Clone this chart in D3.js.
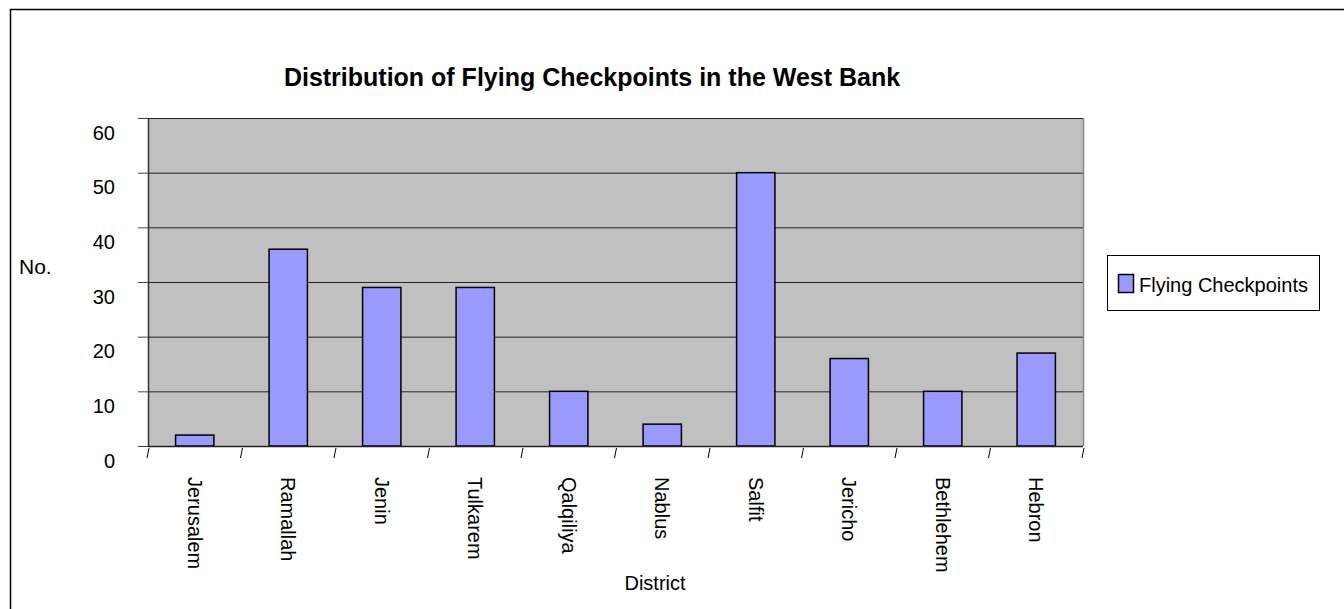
<html>
	<head>
		<meta content="text/html;charset=utf-8" http-equiv="Content-Type">
		<script src="https://d3js.org/d3.v7.min.js"></script>
		<style>
		body { margin:0; background:#fff; }
		text { font-family: Arial, "Liberation Sans", sans-serif; fill:#000; }
		</style>
	</head>
	<body>
		<svg id="chart"></svg>
		<script>

	// data
	var districts = ["Jerusalem","Ramallah","Jenin","Tulkarem","Qalqiliya","Nablus","Salfit","Jericho","Bethlehem","Hebron"];
	var checkpoints = [2, 36, 29, 29, 10, 4, 50, 16, 10, 17];
	var yTicks = [0, 10, 20, 30, 40, 50, 60];
	var seriesName = "Flying Checkpoints";

	page();

	function page(){
		var svg = d3.select("#chart");
		svg.attr("width", 1344).attr("height", 609);

		// chart area border
		svg.append("rect")
			.attr("x", 10.5).attr("y", 9.5)
			.attr("width", 1340).attr("height", 610)
			.style("fill", "#fff").style("stroke", "#000").style("stroke-width", 1.5);

		var left = 148, right = 1083, top = 118, bottom = 446;

		var x = d3.scaleBand().domain(districts).range([left, right])
			.paddingInner(0.59).paddingOuter(0.295);
		var y = d3.scaleLinear().domain([0, 60]).range([bottom, top]);

		// plot area
		svg.append("rect")
			.attr("x", left).attr("y", top)
			.attr("width", right - left).attr("height", bottom - top)
			.style("fill", "#c0c0c0");

		// gridlines
		svg.selectAll(".grid").data(yTicks.slice(1)).enter().append("line")
			.attr("class", "grid")
			.attr("x1", left).attr("x2", right)
			.attr("y1", function(d){ return y(d) + 0.5; })
			.attr("y2", function(d){ return y(d) + 0.5; })
			.style("stroke", "#222").style("stroke-width", 1);

		// right edge of plot
		svg.append("line")
			.attr("x1", right + 0.5).attr("x2", right + 0.5)
			.attr("y1", top).attr("y2", bottom)
			.style("stroke", "#888").style("stroke-width", 1.5);

		// bars
		svg.selectAll(".bar").data(districts).enter().append("rect")
			.attr("class", "bar")
			.attr("x", function(d){ return x(d); })
			.attr("width", x.bandwidth())
			.attr("y", function(d, i){ return y(checkpoints[i]); })
			.attr("height", function(d, i){ return bottom - y(checkpoints[i]); })
			.style("fill", "#9999ff").style("stroke", "#000").style("stroke-width", 1.5);

		// y axis
		var yAxis = svg.append("g").attr("transform", "translate(" + left + ",0)")
			.call(d3.axisLeft(y).tickValues(yTicks).tickSize(10).tickPadding(23));
		yAxis.select(".domain").attr("d", "M0.5," + top + "V" + bottom).style("stroke", "#333").style("stroke-width", 1.5);
		yAxis.selectAll(".tick line").style("stroke", "#444");
		yAxis.selectAll(".tick text")
			.attr("dy", "1.05em")
			.style("font-size", "20px");

		// x axis
		var xAxis = svg.append("g").attr("transform", "translate(0," + bottom + ")")
			.call(d3.axisBottom(x).tickSize(0));
		xAxis.select(".domain").attr("d", "M" + left + ",0.5H" + right).style("stroke", "#222").style("stroke-width", 1.5);
		xAxis.selectAll(".tick text")
			.attr("transform", "rotate(90)")
			.attr("x", 31).attr("y", 0).attr("dy", "0.35em")
			.style("text-anchor", "start")
			.style("font-size", "20px");

		// slanted category separators
		var step = x.step();
		var bounds = d3.range(districts.length + 1).map(function(i){ return left + i * step; });
		svg.selectAll(".sep").data(bounds).enter().append("line")
			.attr("class", "sep")
			.attr("x1", function(d){ return d + 1; }).attr("y1", bottom + 2)
			.attr("x2", function(d){ return d - 1; }).attr("y2", bottom + 12)
			.style("stroke", "#000").style("stroke-width", 1);

		// titles
		svg.append("text")
			.attr("x", 592).attr("y", 86)
			.style("text-anchor", "middle").style("font-weight", "bold").style("font-size", "25px")
			.text("Distribution of Flying Checkpoints in the West Bank");
		svg.append("text")
			.attr("x", 19).attr("y", 274)
			.style("font-size", "21px")
			.text("No.");
		svg.append("text")
			.attr("x", 655).attr("y", 590)
			.style("text-anchor", "middle").style("font-size", "20px")
			.text("District");

		// legend
		var lg = svg.append("g");
		lg.append("rect")
			.attr("x", 1107.5).attr("y", 255.5).attr("width", 212).attr("height", 55)
			.style("fill", "#fff").style("stroke", "#000").style("stroke-width", 1);
		lg.append("rect")
			.attr("x", 1118.5).attr("y", 274.5).attr("width", 15).attr("height", 18)
			.style("fill", "#9999ff").style("stroke", "#000").style("stroke-width", 1.5);
		lg.append("text")
			.attr("x", 1139).attr("y", 292)
			.style("font-size", "20px")
			.text(seriesName);
	}

		</script>
	</body>
</html>
